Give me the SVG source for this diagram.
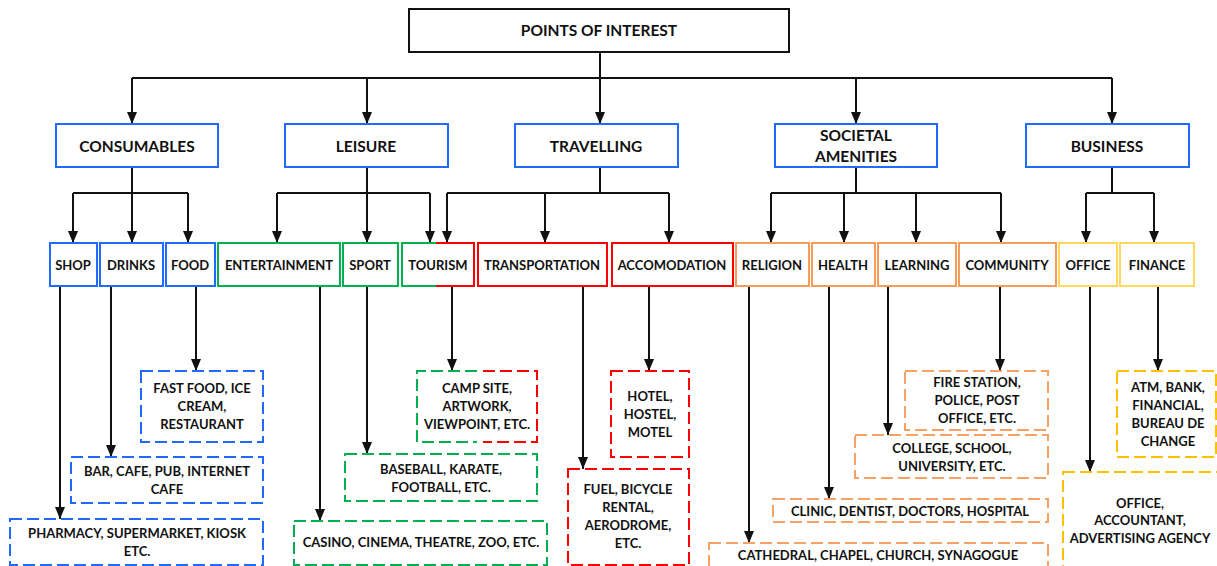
<svg xmlns="http://www.w3.org/2000/svg" width="1217" height="566" viewBox="0 0 1217 566">
<style>
text{font-family:Lato,"Liberation Sans",sans-serif;font-weight:700;font-size:13px;fill:#111;text-anchor:middle;dominant-baseline:central}
.t0{font-size:15.5px}
.t1{font-size:15.5px}
.root{fill:#fff;stroke:#111;stroke-width:2}
.b{fill:#fff;stroke:#1f6bff;stroke-width:2}
.g{fill:#fff;stroke:#00b050;stroke-width:2}
.r{fill:#fff;stroke:#ff0000;stroke-width:2}
.o{fill:#fff;stroke:#f79b5b;stroke-width:2}
.y{fill:#fff;stroke:#ffd75e;stroke-width:2}
.d{stroke-dasharray:12 5}
.bd{fill:#fff;stroke:#1f6bff;stroke-width:2}
.gd{fill:#fff;stroke:#00b050;stroke-width:2}
.rd{fill:#fff;stroke:#ff0000;stroke-width:2}
.od{fill:#fff;stroke:#f6a265;stroke-width:2}
.yd{fill:#fff;stroke:#ffc000;stroke-width:2}
.ln{fill:none;stroke:#111;stroke-width:2}
.ar{fill:none;stroke:#111;stroke-width:2;marker-end:url(#ah)}
</style>
<defs>
<marker id="ah" viewBox="0 0 12 10" refX="12" refY="5" markerWidth="12" markerHeight="10" orient="auto" markerUnits="userSpaceOnUse">
<path d="M0,0 L12,5 L0,10 z" fill="#111"/>
</marker>
</defs>

<g id="connectors">
<path class="ln" d="M600,52 V78 M132,78 H1112"/>
<path class="ar" d="M132,78 V124"/>
<path class="ar" d="M367,78 V124"/>
<path class="ar" d="M600,78 V124"/>
<path class="ar" d="M856,78 V124"/>
<path class="ar" d="M1112,78 V124"/>
<path class="ln" d="M132,167 V193 M73,193 H188"/>
<path class="ar" d="M73,193 V243"/>
<path class="ar" d="M132,193 V243"/>
<path class="ar" d="M188,193 V243"/>
<path class="ln" d="M367,167 V193 M277,193 H430"/>
<path class="ar" d="M277,193 V243"/>
<path class="ar" d="M367,193 V243"/>
<path class="ar" d="M430,193 V243"/>
<path class="ln" d="M600,167 V193 M447,193 H669"/>
<path class="ar" d="M447,193 V243"/>
<path class="ar" d="M545,193 V243"/>
<path class="ar" d="M669,193 V243"/>
<path class="ln" d="M856,167 V193 M771,193 H1001"/>
<path class="ar" d="M771,193 V243"/>
<path class="ar" d="M844,193 V243"/>
<path class="ar" d="M916,193 V243"/>
<path class="ar" d="M1001,193 V243"/>
<path class="ln" d="M1112,167 V193 M1086,193 H1154"/>
<path class="ar" d="M1086,193 V243"/>
<path class="ar" d="M1154,193 V243"/>
<path class="ar" d="M60,286 V519"/>
<path class="ar" d="M111,286 V457"/>
<path class="ar" d="M196,286 V371"/>
<path class="ar" d="M320,286 V521"/>
<path class="ar" d="M367,286 V454"/>
<path class="ar" d="M452,286 V371"/>
<path class="ar" d="M583,286 V469"/>
<path class="ar" d="M649,286 V371"/>
<path class="ar" d="M749,286 V543"/>
<path class="ar" d="M829,286 V499"/>
<path class="ar" d="M888,286 V435"/>
<path class="ar" d="M1000,286 V371"/>
<path class="ar" d="M1090,286 V472"/>
<path class="ar" d="M1158,286 V371"/>
</g>

<g id="root"><rect class="root" x="409" y="9" width="380" height="43"/><text class="t0" x="599" y="30">POINTS OF INTEREST</text></g>

<g id="consumables"><rect class="b" x="56" y="124" width="162" height="43"/><text class="t1" x="137" y="146">CONSUMABLES</text></g>
<g id="leisure"><rect class="b" x="285" y="124" width="163" height="43"/><text class="t1" x="366" y="146">LEISURE</text></g>
<g id="travelling"><rect class="b" x="515" y="124" width="163" height="43"/><text class="t1" x="596" y="146">TRAVELLING</text></g>
<g id="societal"><rect class="b" x="775" y="124" width="162" height="43"/><text class="t1" x="856" y="135">SOCIETAL</text><text class="t1" x="856" y="156">AMENITIES</text></g>
<g id="business"><rect class="b" x="1026" y="124" width="163" height="43"/><text class="t1" x="1107" y="146">BUSINESS</text></g>

<g id="shop"><rect class="b" x="50" y="243" width="47" height="43"/><text x="73" y="265">SHOP</text></g>
<g id="drinks"><rect class="b" x="100" y="243" width="63" height="43"/><text x="131" y="265">DRINKS</text></g>
<g id="food"><rect class="b" x="166" y="243" width="49" height="43"/><text x="190" y="265">FOOD</text></g>
<g id="entertainment"><rect class="g" x="218" y="243" width="122" height="43"/><text x="279" y="265">ENTERTAINMENT</text></g>
<g id="sport"><rect class="g" x="343" y="243" width="55" height="43"/><text x="370" y="265">SPORT</text></g>
<g id="tourism"><rect x="402" y="243" width="72" height="43" fill="#fff"/><path d="M437,243 H402 V286 H437" fill="none" stroke="#00b050" stroke-width="2"/><path d="M436,243 H474 V286 H436" fill="none" stroke="#ff0000" stroke-width="2"/><text x="438" y="265">TOURISM</text></g>
<g id="transportation"><rect class="r" x="478" y="243" width="129" height="43"/><text x="542" y="265">TRANSPORTATION</text></g>
<g id="accomodation"><rect class="r" x="612" y="243" width="121" height="43"/><text x="672" y="265">ACCOMODATION</text></g>
<g id="religion"><rect class="o" x="736" y="243" width="73" height="43"/><text x="772" y="265">RELIGION</text></g>
<g id="health"><rect class="o" x="812" y="243" width="63" height="43"/><text x="843" y="265">HEALTH</text></g>
<g id="learning"><rect class="o" x="878" y="243" width="78" height="43"/><text x="917" y="265">LEARNING</text></g>
<g id="community"><rect class="o" x="959" y="243" width="97" height="43"/><text x="1007" y="265">COMMUNITY</text></g>
<g id="office"><rect class="y" x="1059" y="243" width="58" height="43"/><text x="1088" y="265">OFFICE</text></g>
<g id="finance"><rect class="y" x="1120" y="243" width="74" height="43"/><text x="1157" y="265">FINANCE</text></g>

<g id="leaf-food"><rect class="bd d" x="141" y="371" width="122" height="71"/><text x="202" y="388">FAST FOOD, ICE</text><text x="202" y="406">CREAM,</text><text x="202" y="424">RESTAURANT</text></g>
<g id="leaf-drinks"><rect class="bd d" x="71" y="457" width="192" height="46"/><text x="167" y="471">BAR, CAFE, PUB, INTERNET</text><text x="167" y="489">CAFE</text></g>
<g id="leaf-shop"><rect class="bd d" x="10" y="519" width="253" height="46"/><text x="137" y="533">PHARMACY, SUPERMARKET, KIOSK</text><text x="137" y="551">ETC.</text></g>
<g id="leaf-entertainment"><rect class="gd d" x="294" y="521" width="253" height="44"/><text x="421" y="542">CASINO, CINEMA, THEATRE, ZOO, ETC.</text></g>
<g id="leaf-sport"><rect class="gd d" x="345" y="454" width="192" height="47"/><text x="441" y="469">BASEBALL, KARATE,</text><text x="441" y="487">FOOTBALL,  ETC.</text></g>
<g id="leaf-tourism"><rect x="417" y="371" width="120" height="71" fill="#fff"/><path class="d" d="M477,371 H417 V442 H477" fill="none" stroke="#00b050" stroke-width="2"/><path class="d" d="M483,371 H537 V442 H483" fill="none" stroke="#ff0000" stroke-width="2"/><text x="477" y="388">CAMP SITE,</text><text x="477" y="406">ARTWORK,</text><text x="477" y="424">VIEWPOINT, ETC.</text></g>
<g id="leaf-accomodation"><rect class="rd d" x="611" y="371" width="78" height="86"/><text x="650" y="396">HOTEL,</text><text x="650" y="414">HOSTEL,</text><text x="650" y="432">MOTEL</text></g>
<g id="leaf-transportation"><rect class="rd d" x="568" y="469" width="121" height="96"/><text x="628" y="489">FUEL, BICYCLE</text><text x="628" y="507">RENTAL,</text><text x="628" y="525">AERODROME,</text><text x="628" y="543">ETC.</text></g>
<g id="leaf-community"><rect class="od d" x="905" y="371" width="143" height="59"/><text x="977" y="382">FIRE STATION,</text><text x="977" y="400">POLICE, POST</text><text x="977" y="418">OFFICE, ETC.</text></g>
<g id="leaf-learning"><rect class="od d" x="855" y="435" width="193" height="43"/><text x="952" y="448">COLLEGE, SCHOOL,</text><text x="952" y="466">UNIVERSITY, ETC.</text></g>
<g id="leaf-health"><rect class="od d" x="773" y="499" width="275" height="23"/><text x="910" y="511">CLINIC, DENTIST, DOCTORS, HOSPITAL</text></g>
<g id="leaf-religion"><rect class="od d" x="709" y="543" width="339" height="30"/><text x="878" y="555">CATHEDRAL, CHAPEL, CHURCH, SYNAGOGUE</text></g>
<g id="leaf-finance"><rect class="yd d" x="1117" y="371" width="99" height="86"/><text x="1168" y="387">ATM, BANK,</text><text x="1168" y="405">FINANCIAL,</text><text x="1168" y="423">BUREAU DE</text><text x="1168" y="441">CHANGE</text></g>
<g id="leaf-office"><rect class="yd d" x="1063" y="472" width="165" height="100"/><text x="1140" y="503">OFFICE,</text><text x="1140" y="520">ACCOUNTANT,</text><text x="1140" y="538">ADVERTISING AGENCY</text></g>
</svg>
